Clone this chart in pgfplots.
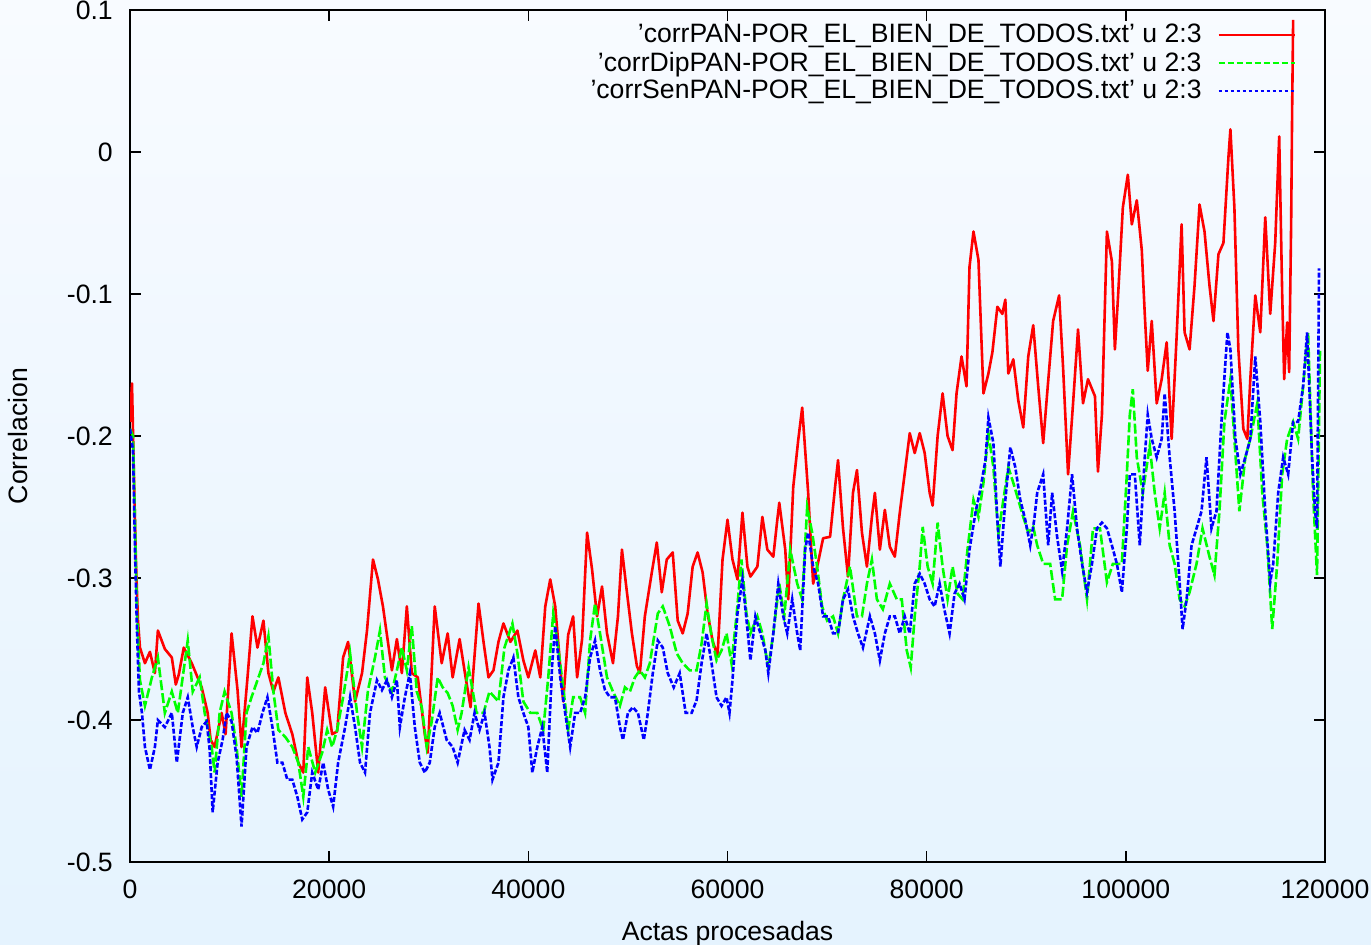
\documentclass[border=0pt]{standalone}
\usepackage{fontspec}
\setmainfont{Liberation Sans}
\usepackage{pgfplots}
\usepackage{pgfplotstable}
\pgfplotsset{compat=1.18}
\definecolor{bgtop}{HTML}{F8FBFF}
\definecolor{bgbot}{HTML}{E5F3FE}
\definecolor{gpred}{HTML}{FF0000}
\definecolor{gpgreen}{HTML}{00FF00}
\definecolor{gpblue}{HTML}{0000FF}

\pgfplotstableread{
x y
0 -0.19
200 -0.163
400 -0.23
600 -0.289
800 -0.33
1000 -0.349
1500 -0.36
2000 -0.352
2500 -0.367
2800 -0.337
3500 -0.35
4200 -0.356
4600 -0.375
4900 -0.368
5400 -0.349
6200 -0.36
7200 -0.377
7800 -0.395
8100 -0.414
8500 -0.419
9200 -0.395
9600 -0.41
10200 -0.339
10800 -0.379
11200 -0.419
11800 -0.37
12300 -0.327
12800 -0.349
13400 -0.33
13900 -0.367
14400 -0.38
14900 -0.37
15600 -0.395
16300 -0.41
16900 -0.43
17400 -0.437
17800 -0.37
18300 -0.395
18900 -0.437
19600 -0.377
20300 -0.41
20800 -0.408
21400 -0.356
21900 -0.345
22600 -0.387
23300 -0.367
23800 -0.337
24400 -0.287
24900 -0.301
25400 -0.32
25900 -0.345
26300 -0.365
26800 -0.343
27300 -0.367
27800 -0.32
28300 -0.367
28900 -0.37
29600 -0.41
29900 -0.423
30600 -0.32
31300 -0.36
31900 -0.339
32400 -0.37
33100 -0.343
33700 -0.37
34200 -0.391
35000 -0.318
35500 -0.345
36000 -0.37
36500 -0.365
37000 -0.345
37500 -0.332
38200 -0.345
38900 -0.337
39500 -0.358
40000 -0.37
40700 -0.351
41200 -0.37
41700 -0.32
42200 -0.301
42700 -0.32
43200 -0.362
43500 -0.387
44000 -0.34
44500 -0.327
44900 -0.37
45400 -0.343
45900 -0.268
46400 -0.294
46900 -0.327
47400 -0.306
47900 -0.339
48500 -0.36
49000 -0.327
49400 -0.28
49900 -0.31
50400 -0.339
50900 -0.362
51200 -0.367
51700 -0.327
52400 -0.296
52900 -0.275
53400 -0.31
53900 -0.287
54500 -0.282
55000 -0.33
55500 -0.339
56000 -0.325
56500 -0.292
57000 -0.282
57500 -0.296
58000 -0.325
58500 -0.344
59000 -0.355
59500 -0.287
60000 -0.259
60500 -0.287
61000 -0.301
61500 -0.254
62000 -0.292
62300 -0.299
63000 -0.292
63500 -0.257
64000 -0.28
64600 -0.285
65000 -0.259
65200 -0.247
65800 -0.28
66100 -0.315
66600 -0.236
67100 -0.203
67500 -0.18
67800 -0.21
68100 -0.24
68600 -0.304
69100 -0.289
69600 -0.272
70300 -0.271
70800 -0.236
71100 -0.217
71600 -0.265
72100 -0.299
72600 -0.24
73000 -0.224
73500 -0.268
74000 -0.292
74500 -0.257
74800 -0.24
75300 -0.28
75800 -0.252
76300 -0.278
76800 -0.285
77300 -0.254
77800 -0.226
78300 -0.198
78800 -0.212
79300 -0.198
79800 -0.212
80300 -0.24
80600 -0.249
81100 -0.2
81600 -0.17
82100 -0.2
82600 -0.21
83000 -0.17
83500 -0.144
84000 -0.165
84300 -0.081
84700 -0.056
85200 -0.076
85700 -0.17
86200 -0.156
86600 -0.141
87100 -0.109
87600 -0.114
87900 -0.104
88200 -0.156
88700 -0.146
89200 -0.175
89700 -0.194
90200 -0.144
90700 -0.122
91200 -0.165
91700 -0.205
92100 -0.170
92700 -0.119
93300 -0.101
93700 -0.152
94200 -0.227
94700 -0.177
95200 -0.125
95700 -0.177
96200 -0.160
96900 -0.172
97200 -0.225
97600 -0.185
98100 -0.056
98600 -0.077
98900 -0.139
99200 -0.104
99700 -0.039
100200 -0.016
100600 -0.051
101100 -0.034
101600 -0.069
101900 -0.114
102200 -0.154
102600 -0.119
103100 -0.177
103600 -0.160
104100 -0.134
104600 -0.202
105100 -0.130
105600 -0.051
105900 -0.127
106400 -0.139
106900 -0.094
107400 -0.037
107900 -0.056
108400 -0.094
108800 -0.119
109300 -0.072
109800 -0.064
110300 -0.004
110500 0.016
110900 -0.039
111300 -0.139
111800 -0.195
112200 -0.202
112500 -0.160
113000 -0.101
113500 -0.127
114000 -0.046
114500 -0.114
115000 -0.064
115400 0.011
115700 -0.100
115900 -0.160
116200 -0.120
116400 -0.155
116600 -0.050
116700 0.030
116800 0.093
}\redtab

\pgfplotstableread{
x y
0 -0.195
300 -0.2
500 -0.26
700 -0.325
1000 -0.372
1500 -0.39
2200 -0.37
2800 -0.356
3500 -0.395
4200 -0.38
4800 -0.395
5800 -0.344
6300 -0.38
7000 -0.37
7500 -0.395
8200 -0.419
8500 -0.437
9000 -0.395
9500 -0.38
10200 -0.395
10700 -0.419
11200 -0.454
11700 -0.395
12200 -0.384
12900 -0.37
13400 -0.36
13900 -0.341
14400 -0.38
14900 -0.407
15600 -0.412
16300 -0.419
16900 -0.43
17400 -0.454
17900 -0.419
18600 -0.437
19300 -0.423
19800 -0.407
20300 -0.419
20800 -0.407
21400 -0.384
22100 -0.353
22800 -0.395
23300 -0.419
23900 -0.379
24600 -0.356
25100 -0.337
25600 -0.37
26300 -0.38
26800 -0.365
27300 -0.349
27800 -0.365
28300 -0.334
28800 -0.38
29300 -0.391
29800 -0.419
30300 -0.401
30900 -0.37
31400 -0.377
31900 -0.381
32400 -0.39
32900 -0.407
33300 -0.395
34000 -0.363
34800 -0.395
35500 -0.395
36100 -0.38
37000 -0.387
37600 -0.349
38400 -0.332
38900 -0.353
39500 -0.387
40200 -0.395
40900 -0.395
41500 -0.407
42000 -0.37
42500 -0.325
43000 -0.349
43500 -0.377
44000 -0.407
44500 -0.384
45200 -0.384
45700 -0.395
46200 -0.344
46700 -0.318
47200 -0.339
47900 -0.37
48500 -0.38
49200 -0.39
49700 -0.377
50200 -0.38
50700 -0.37
51200 -0.365
51700 -0.37
52200 -0.36
53000 -0.325
53500 -0.32
54200 -0.334
54900 -0.353
55500 -0.36
56200 -0.365
56900 -0.365
57400 -0.346
57900 -0.318
58400 -0.341
58900 -0.358
59400 -0.351
59900 -0.339
60400 -0.36
60900 -0.327
61400 -0.287
61900 -0.325
62300 -0.339
63000 -0.327
63500 -0.339
64100 -0.363
64600 -0.339
65200 -0.304
65700 -0.327
66300 -0.28
67000 -0.304
67500 -0.315
68000 -0.25
68500 -0.268
69000 -0.292
69500 -0.32
70000 -0.33
70600 -0.327
71100 -0.339
71600 -0.315
72300 -0.292
73000 -0.327
73500 -0.327
74000 -0.304
74500 -0.287
75000 -0.315
75600 -0.322
76300 -0.304
77000 -0.315
77500 -0.315
78000 -0.351
78400 -0.363
78800 -0.327
79300 -0.292
79600 -0.264
80100 -0.292
80600 -0.304
81100 -0.261
81600 -0.292
82100 -0.315
82600 -0.292
83100 -0.311
83600 -0.315
84100 -0.28
84700 -0.245
85200 -0.257
85700 -0.233
86200 -0.198
86700 -0.222
87200 -0.269
87700 -0.245
88200 -0.222
88700 -0.233
89200 -0.245
89700 -0.257
90200 -0.268
90700 -0.264
91100 -0.277
91700 -0.290
92400 -0.290
92900 -0.315
93600 -0.315
94100 -0.277
94700 -0.253
95400 -0.277
96100 -0.315
96700 -0.265
97400 -0.265
98100 -0.303
98700 -0.290
99600 -0.290
100100 -0.227
100400 -0.185
100700 -0.167
101100 -0.215
101700 -0.240
102400 -0.207
102900 -0.240
103400 -0.265
103900 -0.240
104400 -0.277
104900 -0.290
105400 -0.315
105900 -0.320
106400 -0.310
107100 -0.290
107700 -0.265
108400 -0.285
108900 -0.298
109400 -0.253
109900 -0.190
110500 -0.160
110900 -0.202
111400 -0.253
112000 -0.215
112500 -0.202
113200 -0.177
113700 -0.240
114200 -0.277
114700 -0.336
115200 -0.290
115700 -0.227
116200 -0.202
116800 -0.190
117300 -0.202
117800 -0.165
118300 -0.127
118800 -0.240
119200 -0.298
119500 -0.139
}\greentab

\pgfplotstableread{
x y
0 -0.195
300 -0.21
500 -0.28
700 -0.337
900 -0.38
1200 -0.395
1500 -0.419
2000 -0.435
2500 -0.419
2800 -0.40
3500 -0.405
4200 -0.395
4700 -0.43
5300 -0.395
5800 -0.384
6300 -0.405
6700 -0.419
7200 -0.405
7700 -0.401
8000 -0.421
8300 -0.465
8800 -0.43
9300 -0.414
9700 -0.395
10200 -0.401
10700 -0.426
11200 -0.475
11700 -0.419
12300 -0.405
12800 -0.409
13300 -0.395
13800 -0.384
14300 -0.405
14800 -0.43
15300 -0.43
15800 -0.442
16300 -0.442
16800 -0.454
17300 -0.47
17800 -0.465
18300 -0.437
18900 -0.449
19400 -0.43
19900 -0.449
20400 -0.461
20900 -0.43
21600 -0.405
22100 -0.384
22600 -0.405
23100 -0.43
23600 -0.437
24100 -0.395
24800 -0.372
25300 -0.379
25800 -0.372
26300 -0.384
26800 -0.372
27100 -0.405
27600 -0.384
28100 -0.367
28600 -0.405
29100 -0.43
29600 -0.437
30100 -0.43
30600 -0.405
31100 -0.395
31800 -0.414
32400 -0.419
32900 -0.43
33600 -0.407
34100 -0.414
34600 -0.395
35100 -0.407
35600 -0.395
36100 -0.419
36400 -0.442
37000 -0.43
37500 -0.384
38000 -0.365
38500 -0.356
39000 -0.384
39500 -0.395
40000 -0.405
40400 -0.437
40900 -0.419
41400 -0.405
41900 -0.437
42400 -0.36
42700 -0.334
43200 -0.37
43700 -0.395
44200 -0.419
44700 -0.395
45200 -0.395
45700 -0.384
46200 -0.356
46700 -0.344
47200 -0.365
47700 -0.379
48200 -0.384
48700 -0.384
49200 -0.405
49500 -0.414
50000 -0.395
50500 -0.391
51000 -0.395
51600 -0.414
52000 -0.395
52500 -0.367
53000 -0.344
53500 -0.349
54000 -0.367
54600 -0.377
55200 -0.367
55800 -0.395
56400 -0.395
56900 -0.386
57400 -0.36
57900 -0.339
58400 -0.36
58900 -0.384
59400 -0.39
59900 -0.384
60200 -0.395
60500 -0.372
61000 -0.325
61500 -0.301
62000 -0.336
62300 -0.358
62800 -0.327
63300 -0.339
63800 -0.351
64100 -0.367
64600 -0.339
65100 -0.304
65600 -0.327
66000 -0.339
66500 -0.315
67000 -0.339
67300 -0.351
67800 -0.28
68100 -0.268
68600 -0.292
69100 -0.304
69600 -0.327
70100 -0.327
70600 -0.339
71100 -0.339
71600 -0.315
72100 -0.308
72600 -0.327
73100 -0.339
73600 -0.349
74300 -0.327
74800 -0.339
75300 -0.358
75800 -0.339
76300 -0.327
76800 -0.327
77300 -0.339
77800 -0.327
78300 -0.339
78800 -0.304
79300 -0.297
79800 -0.304
80300 -0.315
80800 -0.32
81300 -0.304
81800 -0.323
82300 -0.339
82800 -0.311
83300 -0.304
83800 -0.315
84300 -0.28
84900 -0.254
85400 -0.237
85900 -0.217
86200 -0.187
86700 -0.205
87100 -0.259
87400 -0.292
87900 -0.245
88400 -0.208
88900 -0.222
89400 -0.245
89900 -0.259
90400 -0.277
90800 -0.259
91100 -0.240
91700 -0.227
92200 -0.277
92600 -0.240
93100 -0.271
93600 -0.295
94100 -0.265
94600 -0.227
95100 -0.265
95600 -0.290
96100 -0.310
96600 -0.290
97100 -0.265
97600 -0.261
98100 -0.265
98600 -0.277
99100 -0.290
99600 -0.310
100100 -0.265
100400 -0.227
100900 -0.227
101400 -0.277
101900 -0.215
102200 -0.185
102600 -0.202
103100 -0.215
103600 -0.202
103900 -0.170
104400 -0.215
104900 -0.253
105400 -0.303
105700 -0.336
106100 -0.315
106600 -0.277
107100 -0.265
107600 -0.253
108100 -0.215
108600 -0.265
109100 -0.253
109600 -0.190
110200 -0.127
110500 -0.139
111000 -0.202
111500 -0.227
112000 -0.215
112500 -0.202
113000 -0.144
113500 -0.190
114000 -0.253
114500 -0.303
114800 -0.290
115300 -0.240
115800 -0.215
116300 -0.227
116800 -0.190
117300 -0.190
117800 -0.165
118200 -0.127
118700 -0.215
119000 -0.253
119200 -0.265
119400 -0.082
}\bluetab

\begin{document}
\fontsize{13.3pt}{16pt}\selectfont
\begin{tikzpicture}
\shade[top color=bgtop, bottom color=bgbot] (0,0) rectangle (685.5pt,472pt);
\path[use as bounding box] (0,0) rectangle (685.5pt,472pt);
\begin{axis}[
  at={(65pt,41pt)}, anchor=south west,
  scale only axis, width=597.5pt, height=426pt,
  xmin=0, xmax=120000, ymin=-0.5, ymax=0.1,
  xtick={0,20000,40000,60000,80000,100000,120000},
  xticklabels={0,20000,40000,60000,80000,100000,120000},
  ytick={-0.5,-0.4,-0.3,-0.2,-0.1,0,0.1},
  yticklabels={-0.5,-0.4,-0.3,-0.2,-0.1,0,0.1},
  scaled x ticks=false, scaled y ticks=false,
  tick align=inside, major tick length=5.5pt,
  tick style={black, line width=0.8pt},
  axis line style={black, line width=1pt},
  ticklabel style={font=\fontsize{13.3pt}{16pt}\selectfont},
  yticklabel style={xshift=-4pt},
  xticklabel style={yshift=-4.5pt},
  axis background/.style={fill=none},
  xlabel={Actas procesadas}, ylabel={Correlacion},
  label style={font=\fontsize{13.3pt}{16pt}\selectfont},
  xlabel style={at={(axis description cs:0.5,-0.0835)}, anchor=center},
  ylabel style={at={(axis description cs:-0.0937,0.5)}, anchor=center},
  legend cell align=right,
  legend plot pos=right,
  legend image code/.code={\draw[#1] (0pt,0pt) -- (38pt,0pt);},
  legend style={at={(axis description cs:0.9707,0.985)}, anchor=north east,
    xshift=3pt, yshift=1.5pt,
    draw=none, fill=none, inner sep=0pt, row sep=-1.5pt,
    /tikz/every odd column/.append style={column sep=6pt},
    font=\fontsize{13.3pt}{16pt}\selectfont},
]
\addplot[gpred, line width=1.3pt, line join=round, forget plot] table[x=x,y=y] {\redtab};
\addplot[gpgreen, line width=1.3pt, dash pattern=on 5pt off 1.5pt, forget plot] table[x=x,y=y] {\greentab};
\addplot[gpblue, line width=1.3pt, dash pattern=on 2.5pt off 1pt, forget plot] table[x=x,y=y] {\bluetab};
\addlegendimage{draw=gpred, line width=1pt, solid}
\addlegendentry{’corrPAN-POR\_EL\_BIEN\_DE\_TODOS.txt’ u 2:3}
\addlegendimage{draw=gpgreen, line width=1pt, dash pattern=on 3pt off 1.5pt}
\addlegendentry{’corrDipPAN-POR\_EL\_BIEN\_DE\_TODOS.txt’ u 2:3}
\addlegendimage{draw=gpblue, line width=1pt, dash pattern=on 1.5pt off 1.5pt}
\addlegendentry{’corrSenPAN-POR\_EL\_BIEN\_DE\_TODOS.txt’ u 2:3}
\end{axis}
\end{tikzpicture}
\end{document}
